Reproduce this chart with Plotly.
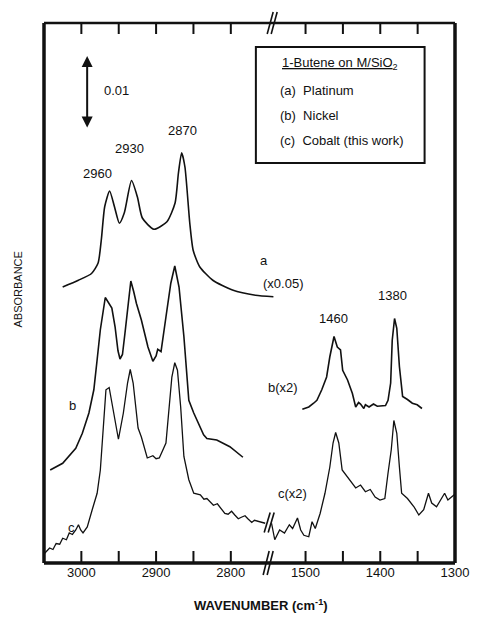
import plotly.graph_objects as go

# ---------------- data (wavenumber cm-1, absorbance in units of 0.001) ----------------
a_wn = [3025, 3004, 2986.4, 2977.6, 2973.3, 2968.8, 2962.2, 2955.7, 2949.1, 2942.5, 2932.9,
        2925, 2918.4, 2903, 2885.5, 2874.6, 2870.1, 2865.8, 2861.4, 2854.9, 2850.4, 2841.7,
        2824.1, 2797.8, 2767, 2743]
a_abs = [36.8, 37.7, 38.6, 40.0, 43.1, 47.5, 49.6, 47.5, 45.3, 46.7, 51.0,
         48.8, 46.0, 44.5, 45.5, 48.0, 52.0, 54.7, 52.8, 45.3, 41.7, 39.5,
         37.7, 36.4, 35.7, 35.5]

b_wn = [3041.7, 3025, 3007.5, 2998.7, 2989.9, 2983.3, 2978.9, 2974.6, 2968, 2964, 2959.2, 2954.9,
        2951, 2948.3, 2945, 2941.7, 2936.5, 2933.8, 2930, 2926.3, 2919.7, 2910.9, 2904.3, 2900,
        2897.8, 2893.4, 2886.8, 2880.3, 2875, 2869.3, 2862.8, 2856.2, 2849.6, 2836.4, 2832,
        2818.8, 2801.3, 2783.8]
b_abs = [12.4, 13.3, 15.3, 17.3, 20.0, 23.1, 27.1, 31.1, 35.4, 34.8, 34.0, 31.5,
         28.3, 27.2, 27.8, 30.6, 35.5, 37.6, 36.2, 34.6, 32.4, 28.8, 26.9, 27.6,
         28.5, 28.2, 32.8, 37.3, 39.6, 36.8, 30.2, 21.7, 20.0, 17.1, 16.6,
         16.4, 15.5, 14.1]

b2_wn = [1504.3, 1495.7, 1489.2, 1484.8, 1478.3, 1471.8, 1467.5, 1461.9, 1457.5, 1453.2, 1450.3,
         1443.8, 1437.3, 1432.9, 1429, 1426.4, 1422, 1419.9, 1415, 1409.1, 1404, 1398.3, 1393,
         1389.6, 1386.1, 1384, 1380.9, 1377.9, 1374.4, 1370.1, 1366, 1363.6, 1357.1, 1350.6, 1344.2]
b2_abs = [20.5, 20.8, 21.3, 21.7, 23.1, 24.8, 27.5, 30.2, 28.8, 28.4, 25.7,
          24.4, 22.6, 20.8, 21.4, 21.2, 20.6, 21.1, 20.8, 21.2, 20.9, 20.9, 21.0,
          21.7, 24.0, 29.7, 32.6, 31.3, 26.2, 22.2, 22.0, 21.8, 21.3, 21.1, 20.6]

c_wn = [3049.1, 3042.5, 3038, 3033.8, 3029, 3025, 3020, 3016.2, 3012, 3007.5, 3003.9, 3000.9,
        2997.8, 2992.1, 2985.5, 2978.9, 2974.6, 2970.1, 2967.1, 2962.8, 2957, 2950.4, 2943.8,
        2938.2, 2934.6, 2930.7, 2924.1, 2919.7, 2911.8, 2904.3, 2900, 2895.7, 2886.8, 2882.5,
        2878.9, 2875, 2871.4, 2867.1, 2862.8, 2856.2, 2849.6, 2840.8, 2836, 2832, 2827, 2823.3,
        2818, 2812.2, 2808, 2803.6, 2799, 2794.7, 2790, 2785.9, 2781, 2777.2, 2772, 2768.4,
        2764, 2759.6, 2754]
c_abs = [1.3, 2.0, 1.8, 2.6, 2.5, 3.3, 3.1, 4.0, 3.8, 4.4, 5.1, 4.4,
         4.0, 4.8, 7.1, 9.3, 12.4, 18.6, 23.1, 23.4, 20.0, 16.5, 20.0,
         24.0, 25.8, 24.0, 18.0, 16.8, 14.0, 14.3, 13.9, 14.0, 16.0, 20.8,
         24.8, 26.7, 25.7, 20.8, 14.2, 11.1, 9.3, 9.1, 8.5, 8.6, 8.0, 7.7,
         7.9, 7.1, 6.6, 6.5, 6.9, 6.4, 5.9, 6.1, 6.3, 5.9, 5.4, 5.7,
         5.6, 5.5, 5.3]

c2_wn = [1545.5, 1541.2, 1534.7, 1528.2, 1521.7, 1517.3, 1510.8, 1506.5, 1502.2, 1495.7, 1491.3,
         1487, 1480.5, 1474, 1467.5, 1463.2, 1459.7, 1455.5, 1451, 1441.6, 1432.9, 1426.4,
         1419.9, 1413.4, 1406.9, 1400.4, 1393.9, 1389.6, 1385.3, 1381.8, 1377.9, 1374.4,
         1371.4, 1363.6, 1354.9, 1348.4, 1341.9, 1335.5, 1331.2, 1324.7, 1318.2, 1313.9,
         1309.5, 1305.2, 1301]
c2_abs = [5.3, 3.1, 4.4, 4.0, 5.1, 4.6, 6.0, 4.4, 3.7, 3.5, 5.5,
          4.6, 6.6, 9.3, 12.8, 16.0, 17.4, 16.0, 12.4, 11.1, 10.0, 10.4,
          9.5, 9.8, 8.8, 8.4, 8.6, 12.0, 15.1, 19.0, 17.3, 12.8,
          9.3, 8.6, 7.5, 6.4, 7.1, 9.3, 8.0, 7.5, 8.6, 9.3,
          8.4, 8.8, 9.1]

# broken axis: low-wavenumber region is shifted onto one continuous axis
SHIFT = 1200
tick_wn = [3000, 2950, 2900, 2850, 2800, 1500, 1450, 1400, 1350, 1300]
top_tick_wn = [3000, 2950, 2900, 2850, 2800, 1500, 1450, 1400, 1350]
label_wn = [3000, 2900, 2800, 1500, 1400, 1300]
label_txt = ["3000", "2900", "2800", "1500", "1400", "1300"]
Y_MIN, Y_MAX = 0, 72

FONT = "Liberation Sans, Arial, Helvetica, sans-serif"
BLACK = "#111111"

def shift(lst):
    return [w if w > 2000 else w + SHIFT for w in lst]

fig = go.Figure()
line = dict(color=BLACK, width=1.6)
fig.add_trace(go.Scatter(x=a_wn, y=a_abs, mode="lines", line=dict(color=BLACK, width=1.6, shape="spline", smoothing=0.6)))
fig.add_trace(go.Scatter(x=b_wn, y=b_abs, mode="lines", line=line))
fig.add_trace(go.Scatter(x=shift(b2_wn), y=b2_abs, mode="lines", line=line))
fig.add_trace(go.Scatter(x=c_wn, y=c_abs, mode="lines", line=dict(color=BLACK, width=1.3)))
fig.add_trace(go.Scatter(x=shift(c2_wn), y=c2_abs, mode="lines", line=dict(color=BLACK, width=1.3)))

# inward tick marks on bottom and top edges (length in axis units: 12 px / 11 px)
BOT_LEN = (Y_MAX - Y_MIN) * 12 / 540
TOP_LEN = (Y_MAX - Y_MIN) * 11 / 540
bx, by = [], []
for w in shift(tick_wn):
    bx += [w, w, None]
    by += [Y_MIN, Y_MIN + BOT_LEN, None]
fig.add_trace(go.Scatter(x=bx, y=by, mode="lines", line=dict(color=BLACK, width=2), hoverinfo="skip"))
tx, ty = [], []
for w in shift(top_tick_wn):
    tx += [w, w, None]
    ty += [Y_MAX - TOP_LEN, Y_MAX - 0.05, None]
fig.add_trace(go.Scatter(x=tx, y=ty, mode="lines", line=dict(color=BLACK, width=2), hoverinfo="skip"))

# pixel helpers for layout placement
L, R, T, B = 44, 463, 23, 563
def px(x):
    return (x - L) / (R - L)
def py(y):
    return (B - y) / (B - T)

ann = []
def txt(s, x, y, size=13, xanchor="center", **kw):
    ann.append(dict(text=s, x=px(x), y=py(y), xref="paper", yref="paper", showarrow=False,
                    xanchor=xanchor, yanchor="middle", font=dict(family=FONT, size=size, color=BLACK), **kw))

txt("0.01", 103, 90, xanchor="left")
txt("2960", 99, 173)
txt("2930", 131, 148)
txt("2870", 185, 131)
txt("a", 268, 260)
txt("(x0.05)", 288, 283)
txt("1460", 339, 318)
txt("1380", 399, 295)
txt("b(x2)", 288, 387)
txt("c(x2)", 297, 493)
txt("b", 73, 405)
txt("c", 72, 527)
txt("<u>1-Butene on M/SiO</u><sub>2</sub>", 346, 63)
txt("(a)  Platinum", 283, 90, xanchor="left")
txt("(b)  Nickel", 283, 115, xanchor="left")
txt("(c)  Cobalt (this work)", 283, 140, xanchor="left")
txt("<b>WAVENUMBER (cm<sup>-1</sup>)</b>", 265, 605)
txt("ABSORBANCE", 17, 290, size=11, textangle=-90)

# scale arrow (0.01 absorbance)
ann.append(dict(x=px(88), y=py(56), xref="paper", yref="paper", ax=0, ay=73, axref="pixel", ayref="pixel",
                text="", showarrow=True, arrowhead=2, startarrowhead=2, arrowside="end+start",
                arrowwidth=2, arrowsize=1.1, startarrowsize=1.1, arrowcolor=BLACK))

shapes = [
    dict(type="line", xref="paper", yref="paper", x0=0, x1=0, y0=0, y1=1, line=dict(color=BLACK, width=3.5)),
    dict(type="line", xref="paper", yref="paper", x0=1, x1=1, y0=0, y1=1, line=dict(color=BLACK, width=3.5)),
    dict(type="line", xref="paper", yref="paper", x0=0, x1=1, y0=0, y1=0, line=dict(color=BLACK, width=3.5)),
    dict(type="line", xref="paper", yref="paper", x0=0, x1=1, y0=1, y1=1, line=dict(color=BLACK, width=2.5)),
    dict(type="rect", xref="paper", yref="paper", x0=px(260), x1=px(432), y0=py(163), y1=py(47),
         line=dict(color=BLACK, width=2)),
]

def brk(xa, ya, yref, h=11):
    xc = 2750
    out = []
    for dx in (-5, -1):
        out.append(dict(type="line", xref="x", yref=yref, xsizemode="pixel", ysizemode="pixel",
                        xanchor=xc, yanchor=ya, x0=xa + dx, x1=xa + dx + 6, y0=-h, y1=h,
                        line=dict(color=BLACK, width=1.6)))
    return out

shapes += brk(0, 0, "paper", 12)
shapes += brk(4, 1, "paper", 11)
shapes += brk(1, 5.4, "y", 10)

fig.update_layout(
    width=481, height=622,
    margin=dict(l=L, r=481 - R, t=T, b=622 - B),
    showlegend=False,
    xaxis=dict(range=[3050, 2500], tickvals=shift(label_wn), ticktext=label_txt,
               ticks="", showline=False, showgrid=False, zeroline=False,
               tickfont=dict(family=FONT, size=13, color=BLACK)),
    yaxis=dict(range=[Y_MIN, Y_MAX], showticklabels=False, ticks="", showline=False, showgrid=False, zeroline=False),
    annotations=ann, shapes=shapes,
    paper_bgcolor="white", plot_bgcolor="white",
)

fig.write_html("out.html")
